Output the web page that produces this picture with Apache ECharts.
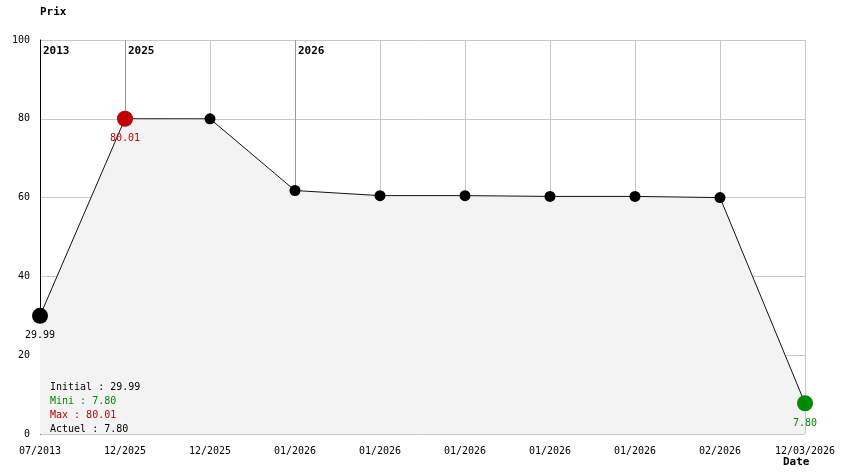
<!DOCTYPE html>
<html>
<head>
<meta charset="utf-8">
<script src="https://cdn.jsdelivr.net/npm/echarts@6/dist/echarts.min.js"></script>
<style>
  html, body { margin: 0; padding: 0; background: #fff; }
  #chart { width: 844px; height: 474px; }
</style>
</head>
<body>
<div id="chart"></div>
<script>
// dates on the x axis, price on the y axis
var dates = ['07/2013', '12/2025', '12/2025', '01/2026', '01/2026', '01/2026', '01/2026', '01/2026', '02/2026', '12/03/2026']
var prices = [29.99, 80.01, 80.0, 61.8, 60.5, 60.5, 60.3, 60.3, 60.0, 7.80]
var years = ['2013', '2025', '', '2026', '', '', '', '', '', '']
var yTicks = [0, 20, 40, 60, 80, 100]

var FONT = '"DejaVu Sans Mono", "Liberation Mono", monospace'
var RED = '#c00000'
var GREEN = '#008a00'

var iMax = prices.indexOf(Math.max.apply(null, prices))
var iMin = prices.indexOf(Math.min.apply(null, prices))
var iLast = prices.length - 1

var points = prices.map(function (v, i) {
  var item = { value: v }
  if (i === 0 || i === iMax || i === iMin) {
    var c = i === iMax ? RED : (i === iMin ? GREEN : '#000')
    item.symbolSize = 16
    item.itemStyle = { color: c }
    item.label = { show: true, color: c, formatter: v.toFixed(2) }
  }
  return item
})

// stats block, bottom left
var stats = [
  ['Initial : ' + prices[0].toFixed(2), '#000'],
  ['Mini : ' + prices[iMin].toFixed(2), GREEN],
  ['Max : ' + prices[iMax].toFixed(2), RED],
  ['Actuel : ' + prices[iLast].toFixed(2), '#000']
]
var statTexts = stats.map(function (s, i) {
  return {
    type: 'text',
    left: 50,
    top: 382 + i * 14,
    z: 100,
    style: { text: s[0], fill: s[1], font: '10px ' + FONT }
  }
})

var myChart = echarts.init(document.getElementById('chart'))
var option = {
  animation: false,
  textStyle: { fontFamily: FONT },
  grid: { left: 40, right: 39, top: 40, bottom: 40, containLabel: false },
  xAxis: [
    {
      type: 'category',
      data: dates,
      boundaryGap: false,
      axisLine: { show: false },
      axisTick: { show: false },
      axisLabel: { fontFamily: FONT, fontSize: 10, color: '#000', margin: 12, interval: 0 },
      splitLine: { show: true, lineStyle: { color: '#c8c8c8', width: 1 } }
    },
    {
      type: 'category',
      data: dates,
      boundaryGap: false,
      position: 'top',
      axisLine: { show: false },
      axisTick: { show: false },
      axisLabel: {
        inside: true,
        interval: 0,
        align: 'left',
        verticalAlign: 'top',
        margin: 6,
        padding: [0, 0, 0, 3],
        fontFamily: FONT,
        fontSize: 11,
        fontWeight: 'bold',
        color: '#000',
        formatter: function (v, i) { return years[i] }
      },
      splitLine: {
        show: true,
        interval: function (i) { return i > 0 && years[i] !== '' },
        lineStyle: { color: '#999999', width: 1 }
      }
    }
  ],
  yAxis: {
    type: 'value',
    min: yTicks[0],
    max: yTicks[yTicks.length - 1],
    interval: 20,
    name: 'Prix',
    nameLocation: 'end',
    nameGap: 22,
    nameTextStyle: { fontFamily: FONT, fontWeight: 'bold', fontSize: 11, color: '#000', align: 'left' },
    axisLine: { show: true, lineStyle: { color: '#000', width: 1 } },
    axisTick: { show: false },
    axisLabel: { fontFamily: FONT, fontSize: 10, color: '#000', margin: 10 },
    splitLine: { show: true, lineStyle: { color: '#c8c8c8', width: 1 } }
  },
  series: [
    {
      type: 'line',
      data: points,
      symbol: 'circle',
      symbolSize: 11,
      itemStyle: { color: '#000' },
      lineStyle: { color: '#111', width: 1 },
      areaStyle: { color: '#f3f3f3', opacity: 1 },
      label: { show: false, position: 'bottom', distance: 7, fontFamily: FONT, fontSize: 10 },
      z: 3
    }
  ],
  graphic: statTexts.concat([
    {
      type: 'text',
      left: 783,
      top: 457,
      z: 100,
      style: { text: 'Date', fill: '#000', font: 'bold 11px ' + FONT }
    }
  ])
}
myChart.setOption(option)
</script>
</body>
</html>
